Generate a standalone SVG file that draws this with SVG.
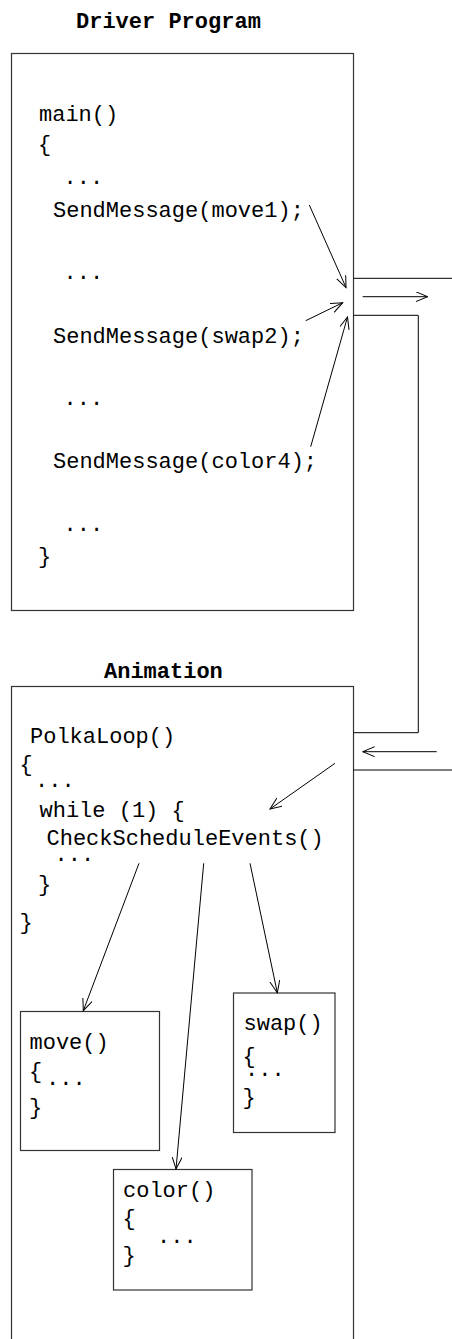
<svg xmlns="http://www.w3.org/2000/svg" width="452" height="1339" viewBox="0 0 452 1339">
<style>
text{font-family:"Liberation Mono","DejaVu Sans Mono",monospace;font-size:22px;fill:#000}
.t{font-weight:bold}
.box{fill:none;stroke:#333;stroke-width:1.2}
.ln{fill:none;stroke:#000;stroke-width:1}
.ar{fill:none;stroke:#000;stroke-width:1;marker-end:url(#ah)}
</style>
<defs>
<marker id="ah" markerUnits="userSpaceOnUse" markerWidth="14" markerHeight="12" refX="12" refY="5" orient="auto">
<path d="M0,0 L12,5 L0,10" fill="none" stroke="#000" stroke-width="1"/>
</marker>
</defs>
<rect width="452" height="1339" fill="#fff"/>
<g id="driver">
<text class="t" x="76" y="28">Driver Program</text>
<rect class="box" x="11.5" y="53.5" width="342" height="557"/>
<text x="39" y="121">main()</text>
<text x="38" y="151">{</text>
<text x="63.5" y="184">...</text>
<text x="53" y="217">SendMessage(move1);</text>
<text x="63.5" y="279">...</text>
<text x="53" y="343">SendMessage(swap2);</text>
<text x="63.5" y="405">...</text>
<text x="53" y="468">SendMessage(color4);</text>
<text x="63.5" y="531">...</text>
<text x="38" y="563">}</text>
</g>
<g id="animation">
<text class="t" x="104" y="678">Animation</text>
<rect class="box" x="11.5" y="686.5" width="342" height="670"/>
<text x="30" y="743">PolkaLoop()</text>
<text x="19.5" y="771">{</text>
<text x="35" y="787">...</text>
<text x="39.5" y="817">while (1) {</text>
<text x="46.5" y="845">CheckScheduleEvents()</text>
<text x="54.5" y="861">...</text>
<text x="38" y="891">}</text>
<text x="19.5" y="929">}</text>
</g>
<g id="move">
<rect class="box" x="20.5" y="1011.5" width="139" height="139"/>
<text x="29.5" y="1049">move()</text>
<text x="29" y="1078">{</text>
<text x="46" y="1085">...</text>
<text x="29" y="1114">}</text>
</g>
<g id="swap">
<rect class="box" x="233.5" y="993" width="101.5" height="139.5"/>
<text x="243.5" y="1030">swap()</text>
<text x="242.5" y="1063">{</text>
<text x="245" y="1076">...</text>
<text x="242.5" y="1104">}</text>
</g>
<g id="color">
<rect class="box" x="113.5" y="1169.5" width="138.5" height="120.5"/>
<text x="123" y="1197">color()</text>
<text x="122.5" y="1225">{</text>
<text x="157" y="1243">...</text>
<text x="122.5" y="1262">}</text>
</g>
<g id="connectors">
<line class="ar" x1="309.3" y1="205" x2="346" y2="287.5"/>
<line class="ar" x1="305.7" y1="320.7" x2="342.7" y2="302.7"/>
<line class="ar" x1="310.7" y1="446.7" x2="347.5" y2="317"/>
<line class="ln" x1="353.5" y1="278.3" x2="452" y2="278.3"/>
<line class="ar" x1="362.7" y1="296.7" x2="427.7" y2="296.7"/>
<polyline class="ln" points="353.5,315.3 418.3,315.3 418.3,732.7 353.5,732.7"/>
<line class="ar" x1="436.7" y1="751.7" x2="362.7" y2="751.7"/>
<line class="ln" x1="353.5" y1="770" x2="452" y2="770"/>
<line class="ar" x1="335" y1="763.3" x2="270" y2="809"/>
<line class="ar" x1="139" y1="863.3" x2="83.3" y2="1010.7"/>
<line class="ar" x1="203.7" y1="863.3" x2="176" y2="1169"/>
<line class="ar" x1="250" y1="863.3" x2="277.3" y2="992.7"/>
</g>
</svg>
